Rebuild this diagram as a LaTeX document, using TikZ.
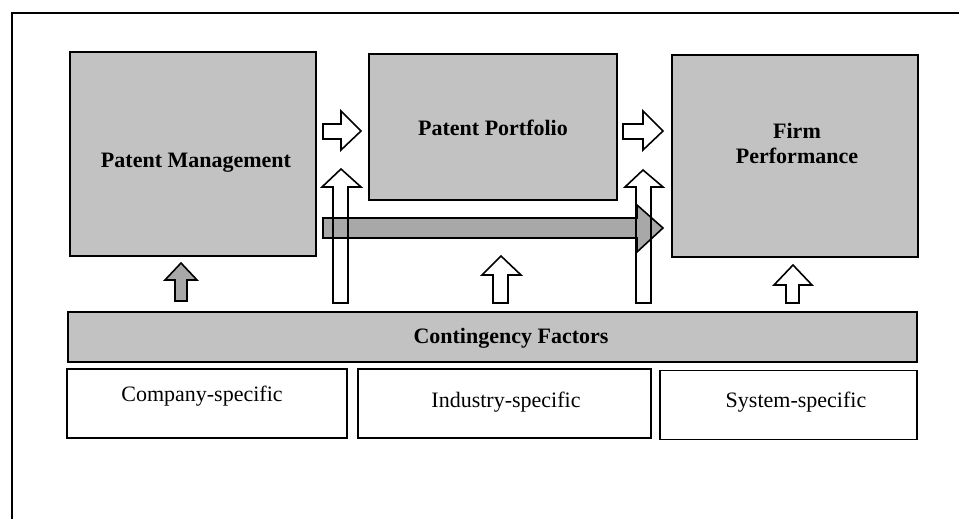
\documentclass[tikz,border=0pt]{standalone}
\usepackage{fontspec}
\setmainfont{Liberation Serif}
\begin{document}
\begin{tikzpicture}[x=1pt,y=-1pt,
  shaded/.style={draw=black,line width=1.8pt,fill=black!24},
  plainbox/.style={draw=black,line width=1.6pt,fill=white},
  arrowline/.style={draw=black,line width=1.6pt,line join=miter},
  boldtxt/.style={font=\fontsize{22}{25}\selectfont\bfseries,align=center,inner sep=0pt},
  regtxt/.style={font=\fontsize{22}{25}\selectfont,inner sep=0pt}]
\useasboundingbox (0,0) rectangle (959,519);
% outer frame
\draw[line width=2pt] (12,519) -- (12,13) -- (959,13);
% main boxes
\node[shaded,minimum width=246pt,minimum height=204pt,inner sep=0pt] (pm) at (193,154) {};
\node[shaded,minimum width=248pt,minimum height=146pt,inner sep=0pt] (pp) at (493,127) {};
\node[shaded,minimum width=246pt,minimum height=202pt,inner sep=0pt] (fp) at (795,156) {};
\node[boldtxt] (pmt) at (196,163) {Patent Management};
\node[boldtxt] (ppt) at (493,128) {Patent Portfolio};
\node[boldtxt] (fpt) at (797,143) {Firm\\Performance};
% contingency bar
\node[shaded,minimum width=849pt,minimum height=50pt,inner sep=0pt] (cf) at (492.5,337) {};
\node[boldtxt] (cft) at (511,338) {Contingency Factors};
% bottom boxes
\node[plainbox,minimum width=280pt,minimum height=69pt,inner sep=0pt] (cs) at (207,403.5) {};
\node[plainbox,minimum width=293pt,minimum height=69pt,inner sep=0pt] (is) at (504.5,403.5) {};
\node[plainbox,minimum width=257pt,minimum height=69pt,inner sep=0pt] (ss) at (788.5,405) {};
\node[regtxt] (cst) at (202,396) {Company-specific};
\node[regtxt] (ist) at (506,402) {Industry-specific};
\node[regtxt] (sst) at (796,402) {System-specific};
% right block arrows
\draw[arrowline,fill=white] (323,124) -- (341,124) -- (341,111) -- (361,131) -- (341,150) -- (341,139) -- (323,139) -- cycle;
\draw[arrowline,fill=white] (623,124) -- (643,124) -- (643,111) -- (663,131) -- (643,150) -- (643,139) -- (623,139) -- cycle;
% gray long arrow
\draw[arrowline,fill=black!34] (323,218) -- (637,218) -- (637,205) -- (663,228) -- (637,252) -- (637,238) -- (323,238) -- cycle;
% long up arrows (outline only, over the gray arrow)
\draw[arrowline] (333,303) -- (333,187) -- (322,187) -- (341,169) -- (361,187) -- (348,187) -- (348,303) -- cycle;
\draw[arrowline] (636,303) -- (636,187) -- (625,187) -- (643,170) -- (663,187) -- (651,187) -- (651,303) -- cycle;
% small up arrows
\draw[arrowline,fill=black!34] (175,301) -- (175,280) -- (165,280) -- (181,263) -- (197,280) -- (187,280) -- (187,301) -- cycle;
\draw[arrowline,fill=white] (493,303) -- (493,275) -- (482,275) -- (501,256) -- (521,275) -- (508,275) -- (508,303) -- cycle;
\draw[arrowline,fill=white] (786,303) -- (786,285) -- (774,285) -- (793,265) -- (812,285) -- (799,285) -- (799,303) -- cycle;
\end{tikzpicture}
\end{document}
